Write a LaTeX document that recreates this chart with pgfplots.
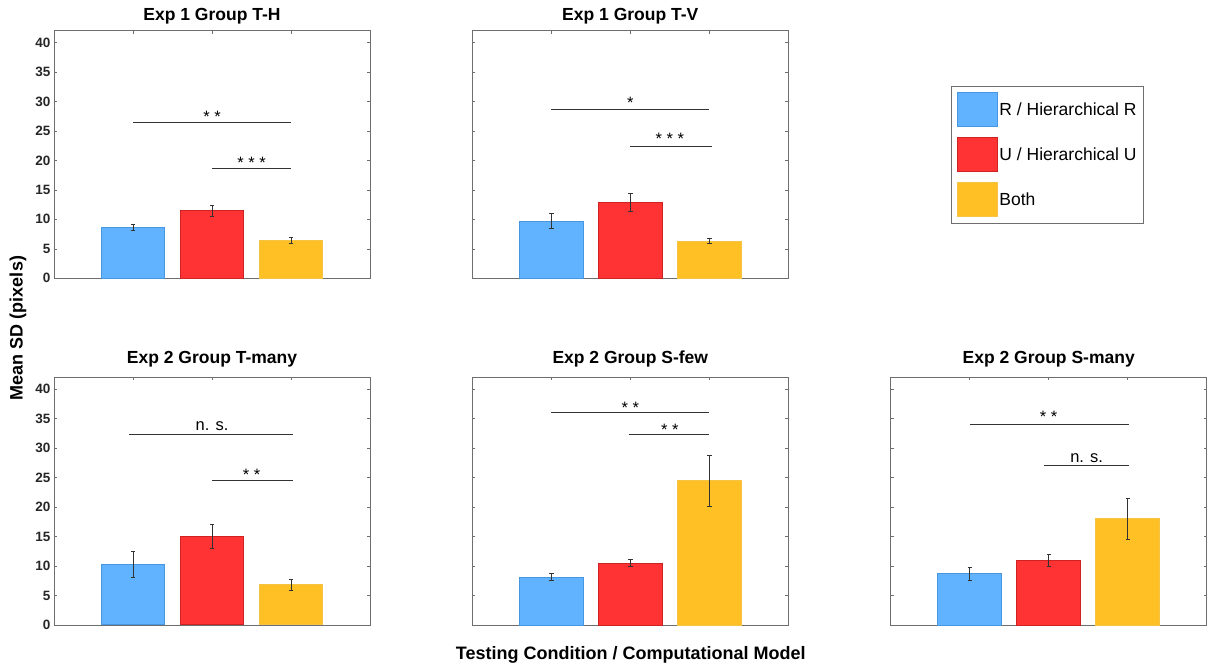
\documentclass[border=0pt]{standalone}
\usepackage{pgfplots}
\pgfplotsset{compat=1.18}
\usepackage{fontspec}
\setmainfont{Liberation Sans}
\definecolor{cB}{RGB}{97,178,255}
\definecolor{eB}{RGB}{70,150,225}
\definecolor{cR}{RGB}{255,51,51}
\definecolor{eR}{RGB}{205,35,35}
\definecolor{cY}{RGB}{255,192,38}
\definecolor{eY}{RGB}{245,195,70}
\definecolor{axisgray}{RGB}{110,110,110}
\definecolor{ticktext}{RGB}{38,38,38}
\newcommand{\titlefont}{\fontsize{17.5bp}{20bp}\selectfont\bfseries}
\newcommand{\labfont}{\fontsize{18bp}{21bp}\selectfont\bfseries}
\newcommand{\tickfont}{\fontsize{13.5bp}{16bp}\selectfont\bfseries}
\newcommand{\legfont}{\fontsize{17.5bp}{20bp}\selectfont}
\newcommand{\sigfont}{\fontsize{16.5bp}{19bp}\selectfont}
\pgfplotsset{
  panel/.style={
    scale only axis, width=316bp, height=247.6bp,
    xmin=0, xmax=4, ymin=0, ymax=42,
    xtick={1,2,3}, xticklabels={},
    ytick={0,5,...,40},
    tick align=inside, major tick length=3bp,
    axis line style={color=axisgray, line width=0.8bp},
    tick style={color=axisgray, line width=0.6bp},
    clip=false,
    title style={font=\titlefont, anchor=base, at={(0.5,1)}},
    yticklabel style={font=\tickfont, color=ticktext},
    /pgf/number format/assume math mode=true,
  },
  noylab/.style={yticklabels={}},
  bB/.style={ybar, bar width=0.81, bar shift=0pt, fill=cB, draw=eB, line width=1bp,
    legend image code/.code={\draw[fill=cB, draw=eB, line width=1bp] (0bp,-17bp) rectangle (40bp,17bp);}},
  bR/.style={ybar, bar width=0.81, bar shift=0pt, fill=cR, draw=eR, line width=1bp,
    legend image code/.code={\draw[fill=cR, draw=eR, line width=1bp] (0bp,-17bp) rectangle (40bp,17bp);}},
  bY/.style={ybar, bar width=0.81, bar shift=0pt, fill=cY, draw=eY, line width=1bp,
    legend image code/.code={\draw[fill=cY, draw=eY, line width=1bp] (0bp,-17bp) rectangle (40bp,17bp);}},
  eb/.style={error bars/.cd, y dir=both, y explicit,
    error bar style={color=black!80, line width=0.8bp},
    error mark options={color=black!80, line width=0.8bp, mark size=2.2bp, rotate=90}},
  sig/.style={forget plot, color=black!80, line width=0.9bp, no marks},
}
\begin{document}
\begin{tikzpicture}
\path[use as bounding box] (0,0) rectangle (1207bp,667bp);

% Panel 1
\begin{axis}[panel, at={(54bp,388.7bp)}, anchor=south west,
  title={Exp 1 Group T-H}, title style={yshift=4.5bp}]
\addplot[bB, eb] coordinates {(1,8.6) +- (0,0.5)};
\addplot[bR, eb] coordinates {(2,11.5) +- (0,0.95)};
\addplot[bY, eb] coordinates {(3,6.45) +- (0,0.5)};
\addplot[sig] coordinates {(1,26.4) (3,26.4)};
\addplot[sig] coordinates {(2,18.6) (3,18.6)};
\node[anchor=base, font=\sigfont] at (axis cs:2,26.45) {* *};
\node[anchor=base, font=\sigfont] at (axis cs:2.5,18.7) {* * *};
\end{axis}

% Panel 2
\begin{axis}[panel, noylab, at={(472.3bp,388.7bp)}, anchor=south west,
  title={Exp 1 Group T-V}, title style={yshift=4.5bp},
  legend style={at={(1.514,0.778)}, anchor=north west, draw=axisgray, line width=0.8bp,
    inner xsep=5.5bp, inner ysep=6bp, row sep=10bp, font=\legfont,
    nodes={inner sep=1.8bp, anchor=west}},
  legend cell align=left]
\addplot[bB, eb] coordinates {(1,9.7) +- (0,1.3)};
\addlegendentry{R / Hierarchical R}
\addplot[bR, eb] coordinates {(2,12.9) +- (0,1.5)};
\addlegendentry{U / Hierarchical U}
\addplot[bY, eb] coordinates {(3,6.3) +- (0,0.4)};
\addlegendentry{Both}
\addplot[sig] coordinates {(1,28.6) (3,28.6)};
\addplot[sig] coordinates {(2,22.4) (3.03,22.4)};
\node[anchor=base, font=\sigfont] at (axis cs:2,28.8) {*};
\node[anchor=base, font=\sigfont] at (axis cs:2.5,22.7) {* * *};
\end{axis}

% Panel 3
\begin{axis}[panel, at={(54bp,42bp)}, anchor=south west,
  title={Exp 2 Group T-many}, title style={yshift=8bp}]
\addplot[bB, eb] coordinates {(1,10.3) +- (0,2.15)};
\addplot[bR, eb] coordinates {(2,15.0) +- (0,2.0)};
\addplot[bY, eb] coordinates {(3,6.8) +- (0,1.0)};
\addplot[sig] coordinates {(0.95,32.4) (3.02,32.4)};
\addplot[sig] coordinates {(2,24.6) (3.02,24.6)};
\node[anchor=base, font=\sigfont] at (axis cs:2,33.05) {n. s.};
\node[anchor=base, font=\sigfont] at (axis cs:2.5,24.5) {* *};
\end{axis}

% Panel 4
\begin{axis}[panel, noylab, at={(472.3bp,42bp)}, anchor=south west,
  title={Exp 2 Group S-few}, title style={yshift=8bp}]
\addplot[bB, eb] coordinates {(1,8.1) +- (0,0.6)};
\addplot[bR, eb] coordinates {(2,10.5) +- (0,0.6)};
\addplot[bY, eb] coordinates {(3,24.5) +- (0,4.3)};
\addplot[sig] coordinates {(1,36.0) (3,36.0)};
\addplot[sig] coordinates {(1.98,32.3) (3,32.3)};
\node[anchor=base, font=\sigfont] at (axis cs:2,35.8) {* *};
\node[anchor=base, font=\sigfont] at (axis cs:2.5,32.2) {* *};
\end{axis}

% Panel 5
\begin{axis}[panel, noylab, at={(890.7bp,42bp)}, anchor=south west,
  title={Exp 2 Group S-many}, title style={yshift=8bp}]
\addplot[bB, eb] coordinates {(1,8.7) +- (0,1.15)};
\addplot[bR, eb] coordinates {(2,10.9) +- (0,1.0)};
\addplot[bY, eb] coordinates {(3,18.0) +- (0,3.55)};
\addplot[sig] coordinates {(1,34.1) (3.02,34.1)};
\addplot[sig] coordinates {(1.94,27.0) (3.02,27.0)};
\node[anchor=base, font=\sigfont] at (axis cs:2,34.4) {* *};
\node[anchor=base, font=\sigfont] at (axis cs:2.48,27.6) {n. s.};
\end{axis}

\node[rotate=90, font=\labfont] at (18bp,339bp) {Mean SD (pixels)};
\node[anchor=base, font=\labfont] at (630.7bp,8bp) {Testing Condition / Computational Model};
\end{tikzpicture}
\end{document}
